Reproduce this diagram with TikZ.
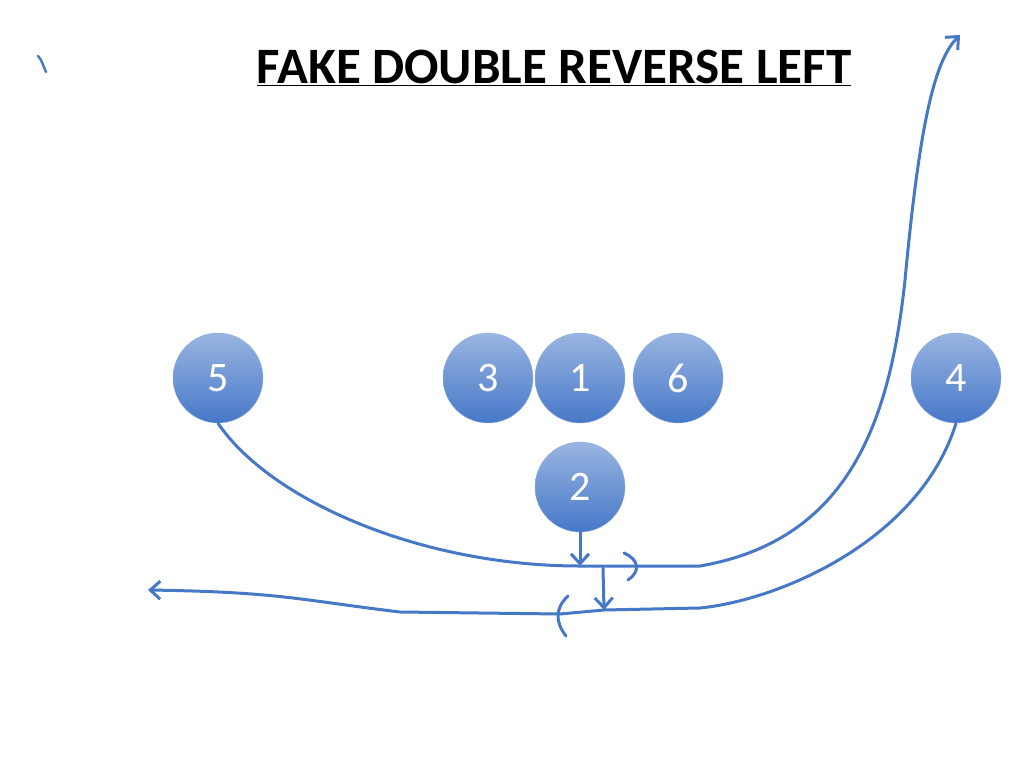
\documentclass[tikz,border=0pt]{standalone}
\usepackage{fontspec}
\setmainfont{Carlito}
\usetikzlibrary{arrows.meta}
\begin{document}
\begin{tikzpicture}
  [
    x=1pt, y=-1pt,
    player/.style =
      {circle, minimum size=90pt, inner sep=0pt, top color=myblue!55!white,
       bottom color=myblue, draw=myblue!60!white, text=white,
       font=\fontsize{42}{44}\selectfont},
    route/.style =
      {draw=myblue, line width=3pt, line cap=round, line join=round},
    tip/.style = {-{Straight Barb[length=10pt,width=18pt]}}
  ]
  \definecolor{myblue}{RGB}{70,120,200}
  \useasboundingbox (0,0) rectangle (1024,768);
  \node [font=\bfseries\fontsize{51}{54}\selectfont] (title) at (554,68)
    {\underline{FAKE DOUBLE REVERSE LEFT}};

  \node [player] at (218,378) (p5) {5};
  \node [player] at (488,378) (p3) {3};
  \node [player] at (580,378) (p1) {1};
  \node [player] at (678,378) (p6) {6};
  \node [player] at (956,378) (p4) {4};
  \node [player] at (580,487) (p2) {2};

  \coordinate (m1) at (580,566);
  \coordinate (m2) at (603,568);
  \coordinate (m3) at (604,610);
  \coordinate (top) at (960,35);
  \coordinate (left) at (148,590);

  % tick in the corner
  \draw[route, line width=2.4pt] (38,56) -- (41,60) -- (46,72);

  % 5 runs the sweep and takes it deep
  \draw[route, tip] (p5.south) .. controls (270,500) and (420,566) .. (m1)
    -- (700,566) .. controls (850,540) and (890,420) .. (905,280)
    .. controls (920,120) and (935,60) .. (top);
  \draw[route] (624,553) .. controls (640,560) and (640,572) .. (628,580);

  % 4 comes back on the reverse
  \draw[route, tip] (p4.south) .. controls (920,540) and (780,600) .. (700,608)
    -- (m3) -- (560,614) -- (400,612) .. controls (300,600) and (280,592) .. (left);
  \draw[route] (568,596) .. controls (555,608) and (555,622) .. (566,636);

  % handoffs
  \draw[route, tip] (p2.south) -- (m1);
  \draw[route, tip] (m2) -- (m3);
\end{tikzpicture}
\end{document}
